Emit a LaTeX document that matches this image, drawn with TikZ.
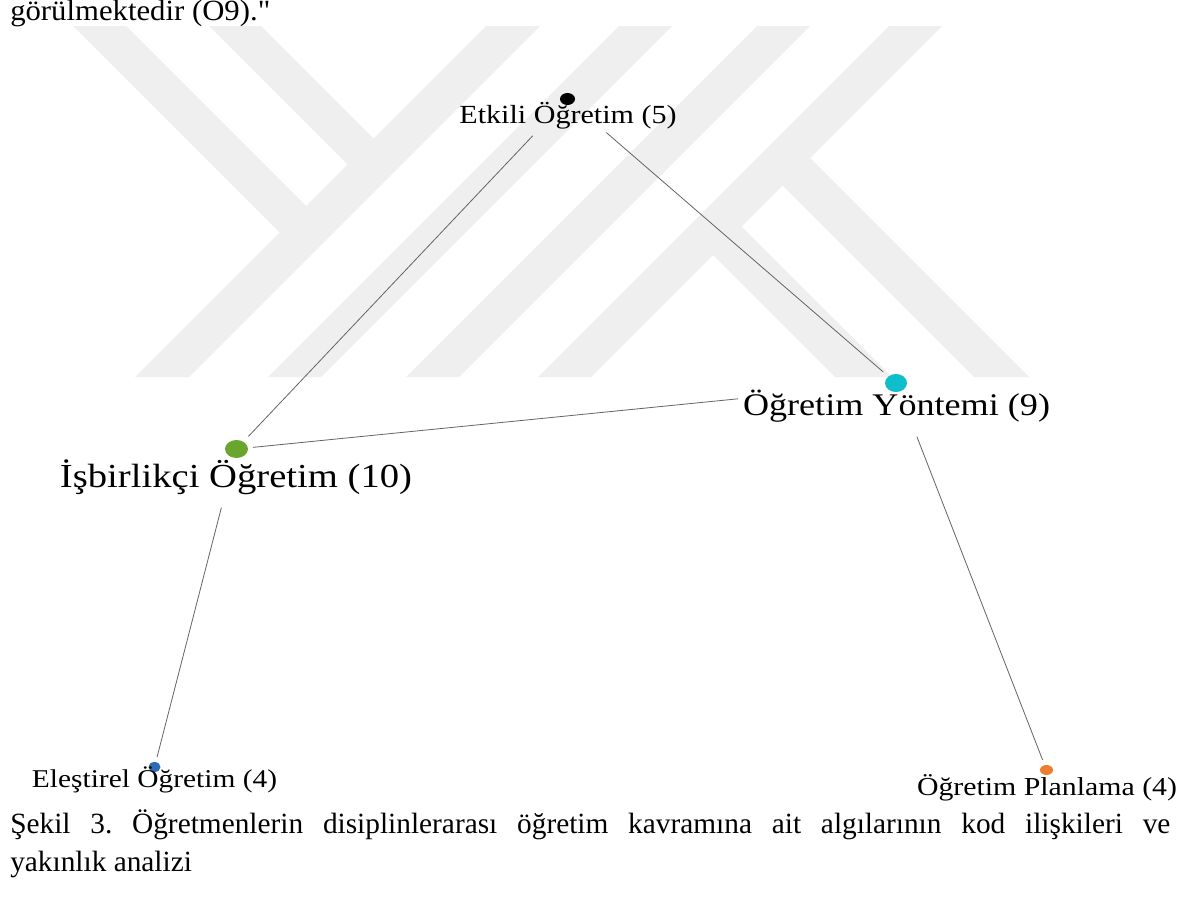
\documentclass[tikz,border=0pt]{standalone}
\usepackage{fontspec}
\setmainfont{Liberation Serif}[Ligatures=TeXOff]
\usetikzlibrary{shapes.geometric}
\definecolor{wm}{RGB}{239,239,239}
\definecolor{edgegray}{RGB}{100,100,100}
\definecolor{cgreen}{RGB}{106,166,46}
\definecolor{ccyan}{RGB}{14,190,204}
\definecolor{cblue}{RGB}{46,108,178}
\definecolor{corange}{RGB}{237,125,49}
\newcommand{\lbltext}[3]{\resizebox{#1}{\height}{\fontsize{#2}{#2}\selectfont #3}}
\begin{document}
\frenchspacing
\begin{tikzpicture}[x=0.75pt,y=-0.75pt,
  dotnode/.style={ellipse, inner sep=0pt, draw=none},
  lblnode/.style={anchor=base, inner sep=0pt},
  edgeline/.style={draw=edgegray, line width=0.6pt},
  band/.style={fill=wm, draw=none},
  bodytext/.style={anchor=base west, inner sep=0pt, font=\fontsize{22pt}{22pt}\selectfont}]
\useasboundingbox (0,0) rectangle (1200,899);
\fill[white] (0,0) rectangle (1200,899);
% watermark
\begin{scope}
\clip (0,27) rectangle (1200,377);
\fill[band] (47,0)--(100,0)--(320,220)--(293.5,246.5)--cycle;
\fill[band] (183,0)--(235,0)--(387.5,152.5)--(361.5,178.5)--cycle;
\fill[band] (135,377)--(189,377)--(566,0)--(512,0)--cycle;
\fill[band] (268,377)--(321,377)--(698,0)--(645,0)--cycle;
\fill[band] (406,377)--(459,377)--(836,0)--(783,0)--cycle;
\fill[band] (538,377)--(591,377)--(968,0)--(915,0)--cycle;
\fill[band] (704,246)--(732.5,217.5)--(892,377)--(835,377)--cycle;
\fill[band] (773.5,176.5)--(801,149)--(1029,377)--(974,377)--cycle;
\end{scope}
% top text
\node[anchor=base west, inner sep=0pt] (toptext) at (10,21) {\lbltext{195pt}{22pt}{görülmektedir (O9)."}};
% dots
\node[dotnode, fill=black, minimum width=11.25pt, minimum height=9pt] (d-etk) at (567.5,99) {};
\node[dotnode, fill=ccyan, minimum width=16.5pt, minimum height=13.5pt] (d-yon) at (896,383) {};
\node[dotnode, fill=cgreen, minimum width=17.25pt, minimum height=13.5pt] (d-isb) at (236.5,449) {};
\node[dotnode, fill=cblue, minimum width=9pt, minimum height=7.5pt] (d-ele) at (154.5,767) {};
\node[dotnode, fill=corange, minimum width=9.75pt, minimum height=7.5pt] (d-pla) at (1046.5,770) {};
% labels
\node[lblnode] (l-etk) at (568,123) {\lbltext{162.75pt}{19.6pt}{Etkili Öğretim (5)}};
\node[lblnode] (l-yon) at (896.5,415) {\lbltext{230.25pt}{23.6pt}{Öğretim Yöntemi (9)}};
\node[lblnode] (l-isb) at (236,487) {\lbltext{264pt}{25.2pt}{İşbirlikçi Öğretim (10)}};
\node[lblnode] (l-ele) at (154.5,787) {\lbltext{183.75pt}{19.2pt}{Eleştirel Öğretim (4)}};
\node[lblnode] (l-pla) at (1047,795) {\lbltext{195pt}{19.4pt}{Öğretim Planlama (4)}};
% edges
\draw[edgeline, shorten <=37.95pt, shorten >=13pt] (d-etk.center) -- (d-isb.center);
\draw[edgeline, shorten <=38.5pt, shorten >=12.75pt] (d-etk.center) -- (d-yon.center);
\draw[edgeline, shorten <=12.4pt, shorten >=119.1pt] (d-isb.center) -- (d-yon.center);
\draw[edgeline, shorten <=45.4pt, shorten >=7.7pt] (d-isb.center) -- (d-ele.center);
\draw[edgeline, shorten <=43.2pt, shorten >=8pt] (d-yon.center) -- (d-pla.center);
% caption
\node[bodytext] (cap1) at (10,833) {\makebox[870pt][s]{Şekil 3. Öğretmenlerin disiplinlerarası öğretim kavramına ait algılarının kod ilişkileri ve}};
\node[bodytext] (cap2) at (10,871) {yakınlık analizi};
\end{tikzpicture}
\end{document}
